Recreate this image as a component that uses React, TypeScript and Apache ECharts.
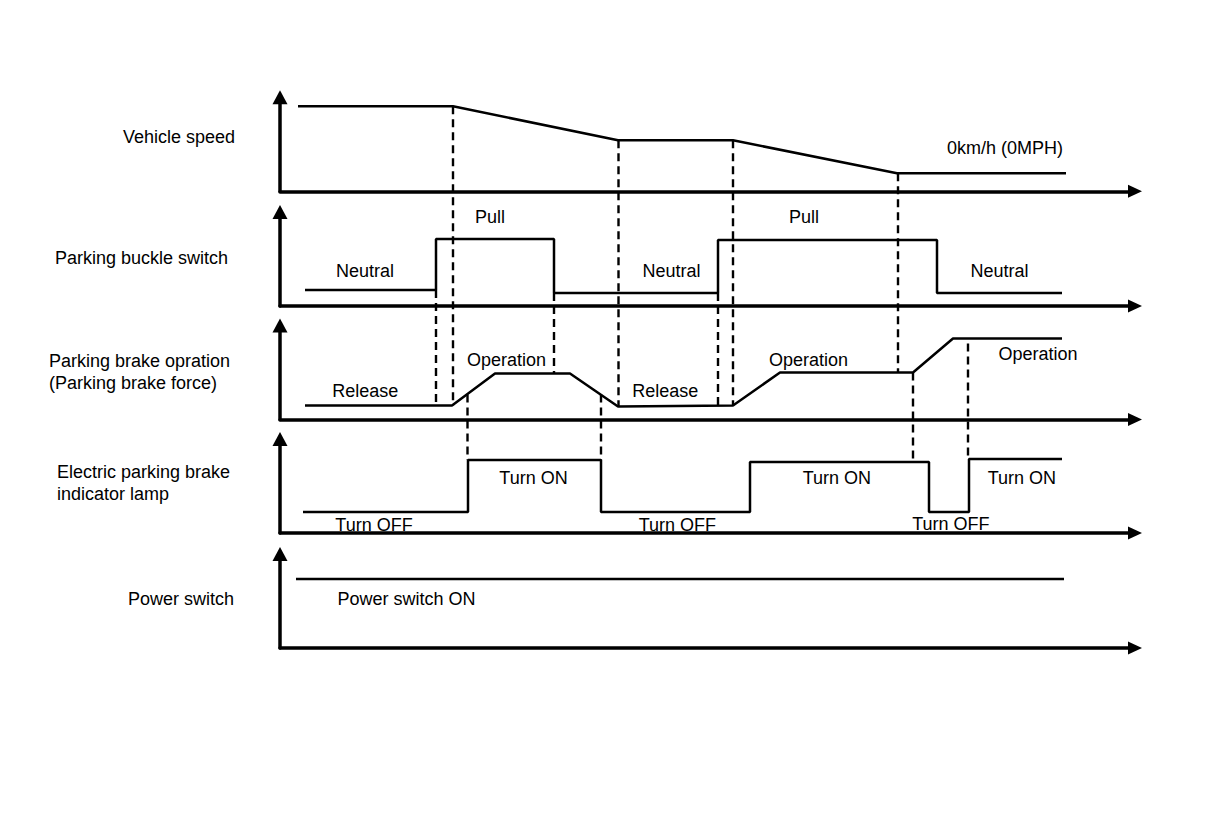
import React, { useEffect, useRef } from "react";
import * as echarts from "echarts";

// ---------- data (time units along the x axis, level units per panel) ----------
const panelNames = [
  "Vehicle speed",
  "Parking buckle switch",
  "Parking brake opration\n(Parking brake force)",
  "Electric parking brake\nindicator lamp",
  "Power switch",
];

const speedTimes = [18, 173, 338, 453, 617, 786];
const speedValues = [85, 85, 51, 51, 18, 18];

const buckleTimes = [25, 156, 156, 274, 274, 438, 438, 657, 657, 782];
const buckleValues = [16, 16, 67, 67, 13, 13, 66, 66, 13, 13];

const brakeTimes = [25, 172, 215, 290, 338, 453, 500, 633, 673, 782];
const brakeValues = [14, 14, 46, 46, 13, 14, 47, 47, 81, 81];

const lampTimes = [23, 188, 188, 321, 321, 470, 470, 649, 649, 689, 689, 782];
const lampValues = [21, 21, 73, 73, 21, 21, 71, 71, 21, 21, 74, 74];

const powerTimes = [16, 784];
const powerValues = [69, 69];

// dashed guide lines: time, start panel/level, end panel/level
const dashTimes = [173, 156, 274, 338.5, 438, 453, 618, 633, 688, 187.5, 321];
const dashFromPanel = [0, 1, 1, 0, 1, 0, 0, 2, 2, 2, 2];
const dashFromValue = [85, 16, 13, 51, 13, 51, 18, 47, 76, 25, 25];
const dashToPanel = [2, 2, 2, 2, 2, 2, 2, 3, 3, 3, 3];
const dashToValue = [14, 14, 46, 13, 14, 14, 47, 72, 74, 73, 73];

// state annotations
const annoPanel = [0, 1, 1, 1, 1, 1, 2, 2, 2, 2, 2, 3, 3, 3, 3, 3, 3, 4];
const annoTimes = [725, 210, 524, 85, 391.5, 719.5, 226.5, 528.5, 758, 85.3, 385.3, 253.5, 556.8, 741.8, 94, 397.3, 670.8, 126.5];
const annoValues = [43.5, 89.5, 89.5, 35.5, 35.5, 35.5, 59.5, 59.5, 66, 28.8, 28.8, 54.7, 54.7, 54.7, 8.5, 8.5, 9.3, 49];
const annoTexts = [
  "0km/h (0MPH)",
  "Pull", "Pull", "Neutral", "Neutral", "Neutral",
  "Operation", "Operation", "Operation", "Release", "Release",
  "Turn ON", "Turn ON", "Turn ON", "Turn OFF", "Turn OFF", "Turn OFF",
  "Power switch ON",
];

// ---------- layout ----------
const FONT = "'Liberation Sans', Arial, Helvetica, sans-serif";
const axisY = [191.3, 306, 419.5, 533, 648];
const GRID_LEFT = 280;
const GRID_WIDTH = 855;
const GRID_HEIGHT = 94;
const X_MAX = 855;
const Y_MAX = 94;
const labelPos = [
  { x: 123, y: 136.7 },
  { x: 55, y: 258 },
  { x: 49, y: 371.7 },
  { x: 57, y: 483 },
  { x: 128, y: 599 },
];

const zip = (a: number[], b: number[]) => a.map((t, i) => [t, b[i]]);

export default function App() {
  const ref = useRef<HTMLDivElement>(null);

  useEffect(() => {
    if (!ref.current) return;
    const chart = echarts.init(ref.current, null, { renderer: "svg" });

    const signals = [
      zip(speedTimes, speedValues),
      zip(buckleTimes, buckleValues),
      zip(brakeTimes, brakeValues),
      zip(lampTimes, lampValues),
      zip(powerTimes, powerValues),
    ];

    const grid = axisY.map((ay) => ({
      left: GRID_LEFT,
      top: ay - GRID_HEIGHT,
      width: GRID_WIDTH,
      height: GRID_HEIGHT,
      containLabel: false,
    }));

    const axisLine = (sym: number[]) => ({
      show: true,
      symbol: ["none", "triangle"],
      symbolSize: sym,
      lineStyle: { color: "#000", width: 3.5 },
    });

    const xAxis = axisY.map((_, i) => ({
      type: "value",
      gridIndex: i,
      min: 0,
      max: X_MAX,
      axisLine: axisLine([13, 14]),
      axisTick: { show: false },
      axisLabel: { show: false },
      splitLine: { show: false },
    }));

    const yAxis = axisY.map((_, i) => ({
      type: "value",
      gridIndex: i,
      min: 0,
      max: Y_MAX,
      axisLine: axisLine([15, 14]),
      axisTick: { show: false },
      axisLabel: { show: false },
      splitLine: { show: false },
    }));

    const series: any[] = [];

    signals.forEach((data, i) => {
      series.push({
        type: "line",
        xAxisIndex: i,
        yAxisIndex: i,
        data,
        showSymbol: false,
        symbol: "none",
        silent: true,
        lineStyle: { color: "#000", width: 2.5 },
      });
    });

    dashTimes.forEach((t, k) => {
      const p = dashFromPanel[k];
      const q = dashToPanel[k];
      const endValue = dashToValue[k] - (axisY[q] - axisY[p]);
      series.push({
        type: "line",
        xAxisIndex: p,
        yAxisIndex: p,
        clip: false,
        data: [
          [t, dashFromValue[k]],
          [t, endValue],
        ],
        showSymbol: false,
        symbol: "none",
        silent: true,
        lineStyle: { color: "#000", width: 2.4, type: [8, 5] },
      });
    });

    axisY.forEach((_, i) => {
      const data = annoTexts
        .map((txt, k) => ({ k, txt }))
        .filter(({ k }) => annoPanel[k] === i)
        .map(({ k, txt }) => ({ value: [annoTimes[k], annoValues[k]], name: txt }));
      series.push({
        type: "scatter",
        xAxisIndex: i,
        yAxisIndex: i,
        data,
        symbolSize: 0,
        silent: true,
        itemStyle: { color: "#000" },
        label: {
          show: true,
          position: [0, 0],
          formatter: (p: any) => p.name,
          color: "#000",
          opacity: 1,
          fontSize: 18,
          fontFamily: FONT,
          align: "center",
          verticalAlign: "middle",
        },
      });
    });

    const graphic = panelNames.map((name, i) => ({
      type: "text",
      x: labelPos[i].x,
      y: labelPos[i].y,
      silent: true,
      style: {
        text: name,
        fill: "#000",
        fontSize: 18,
        fontFamily: FONT,
        lineHeight: 22,
        align: "left",
        verticalAlign: "middle",
      },
    }));

    chart.setOption({
      animation: false,
      backgroundColor: "#fff",
      grid,
      xAxis,
      yAxis,
      series,
      graphic,
    });

    return () => chart.dispose();
  }, []);

  return (
    <div
      ref={ref}
      style={{ position: "fixed", left: 0, top: 0, width: 1216, height: 824, background: "#fff" }}
    />
  );
}
